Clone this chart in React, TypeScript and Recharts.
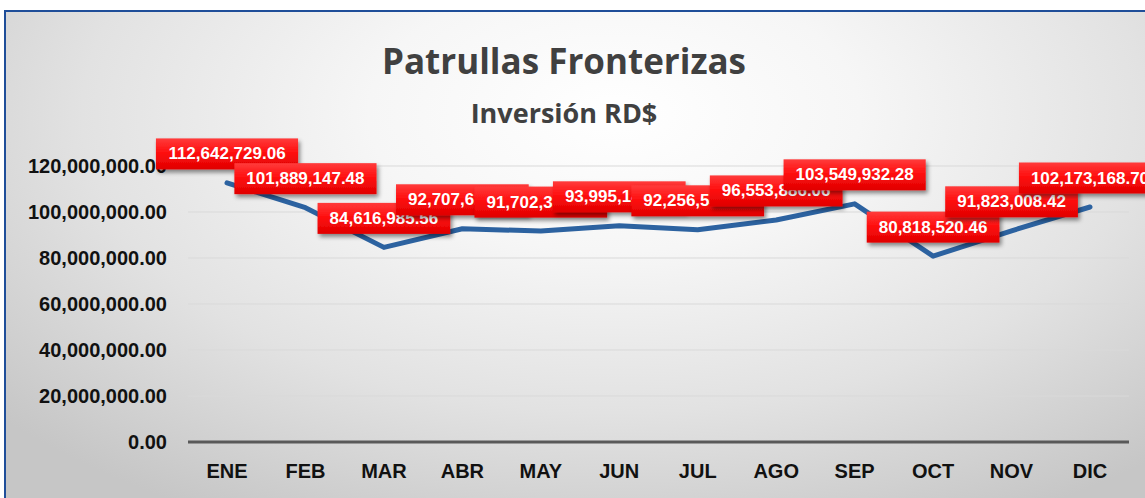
import { LineChart, Line, XAxis, YAxis, CartesianGrid, LabelList } from "recharts";

const months = ["ENE", "FEB", "MAR", "ABR", "MAY", "JUN", "JUL", "AGO", "SEP", "OCT", "NOV", "DIC"];
const inversion = [
  112642729.06, 101889147.48, 84616985.56, 92707612.45, 91702318.77, 93995142.3,
  92256553.84, 96553886.06, 103549932.28, 80818520.46, 91823008.42, 102173168.7,
];
const yTicks = [0, 20000000, 40000000, 60000000, 80000000, 100000000, 120000000];

const data = months.map((m, i) => ({ mes: m, valor: inversion[i] }));

const fmt = (v: number) =>
  v.toLocaleString("en-US", { minimumFractionDigits: 2, maximumFractionDigits: 2 });

const LABEL_FS = 17;

const RedLabel = (props: any) => {
  const { x, y, value, index } = props;
  const text = fmt(Number(value));
  const digits = text.replace(/[^0-9]/g, "").length;
  const punct = text.length - digits;
  const w = (digits * 0.556 + punct * 0.278) * LABEL_FS + 24;
  const h = 31;
  const cy = y - 29;
  return (
    <g>
      <defs>
        <linearGradient id={`redGrad${index}`} x1="0" y1="0" x2="0" y2="1">
          <stop offset="0%" stopColor="#ff3b3b" />
          <stop offset="45%" stopColor="#ff1010" />
          <stop offset="100%" stopColor="#e00000" />
        </linearGradient>
        <filter id={`shadow${index}`} x="-20%" y="-30%" width="140%" height="180%">
          <feDropShadow dx="2" dy="3" stdDeviation="2" floodColor="#000" floodOpacity="0.45" />
        </filter>
      </defs>
      <rect
        x={x - w / 2}
        y={cy - h / 2}
        width={w}
        height={h}
        fill={`url(#redGrad${index})`}
        filter={`url(#shadow${index})`}
      />
      <text
        x={x}
        y={cy}
        textAnchor="middle"
        dominantBaseline="central"
        fill="#ffffff"
        fontSize={LABEL_FS}
        fontWeight="bold"
        fontFamily="'Liberation Sans', Arial, sans-serif"
      >
        {text}
      </text>
    </g>
  );
};

export default function App() {
  return (
    <div
      style={{
        position: "fixed",
        left: 0,
        top: 0,
        width: 1145,
        height: 498,
        overflow: "hidden",
        background: "#ffffff",
      }}
    >
      <div
        style={{
          position: "absolute",
          left: 4,
          top: 10,
          width: 1170,
          height: 510,
          border: "2px solid #1f4e99",
          background:
            "radial-gradient(ellipse 70% 90% at 52% 20%, #ffffff 0%, #f6f6f6 30%, #e2e2e2 65%, #c6c6c6 100%)",
        }}
      />
      <div
        style={{
          position: "absolute",
          left: 0,
          width: 1128,
          top: 37,
          textAlign: "center",
          fontFamily: "'Open Sans', sans-serif",
          fontWeight: 700,
          fontSize: 35,
          color: "#404040",
          lineHeight: "48px",
        }}
      >
        Patrullas Fronterizas
      </div>
      <div
        style={{
          position: "absolute",
          left: 0,
          width: 1128,
          top: 94,
          textAlign: "center",
          fontFamily: "'Open Sans', sans-serif",
          fontWeight: 700,
          fontSize: 27,
          color: "#404040",
          lineHeight: "38px",
        }}
      >
        Inversión RD$
      </div>
      <div style={{ position: "absolute", left: 0, top: 0 }}>
        <LineChart
          width={1145}
          height={498}
          data={data}
          margin={{ top: 166, right: 16, bottom: 0, left: 0 }}
        >
          <CartesianGrid vertical={false} stroke="#d9d9d9" strokeWidth={1} />
          <XAxis
            dataKey="mes"
            height={56}
            padding={{ left: 39, right: 39 }}
            axisLine={{ stroke: "#595959", strokeWidth: 3 }}
            tickLine={false}
            tickSize={0}
            tickMargin={22}
            tick={{
              fill: "#111111",
              fontSize: 20,
              fontWeight: "bold",
              fontFamily: "'Liberation Sans', Arial, sans-serif",
            }}
          />
          <YAxis
            width={188}
            domain={[0, 120000000]}
            ticks={yTicks}
            axisLine={false}
            tickLine={false}
            tickSize={0}
            tickMargin={21}
            tickFormatter={(v: number) => fmt(v)}
            tick={{
              fill: "#111111",
              fontSize: 20,
              fontWeight: "bold",
              fontFamily: "'Liberation Sans', Arial, sans-serif",
            }}
          />
          <Line
            type="linear"
            dataKey="valor"
            stroke="#2c62a0"
            strokeWidth={5}
            strokeLinecap="round"
            strokeLinejoin="round"
            dot={false}
            activeDot={false}
            isAnimationActive={false}
          >
            <LabelList dataKey="valor" content={<RedLabel />} />
          </Line>
        </LineChart>
      </div>
    </div>
  );
}
